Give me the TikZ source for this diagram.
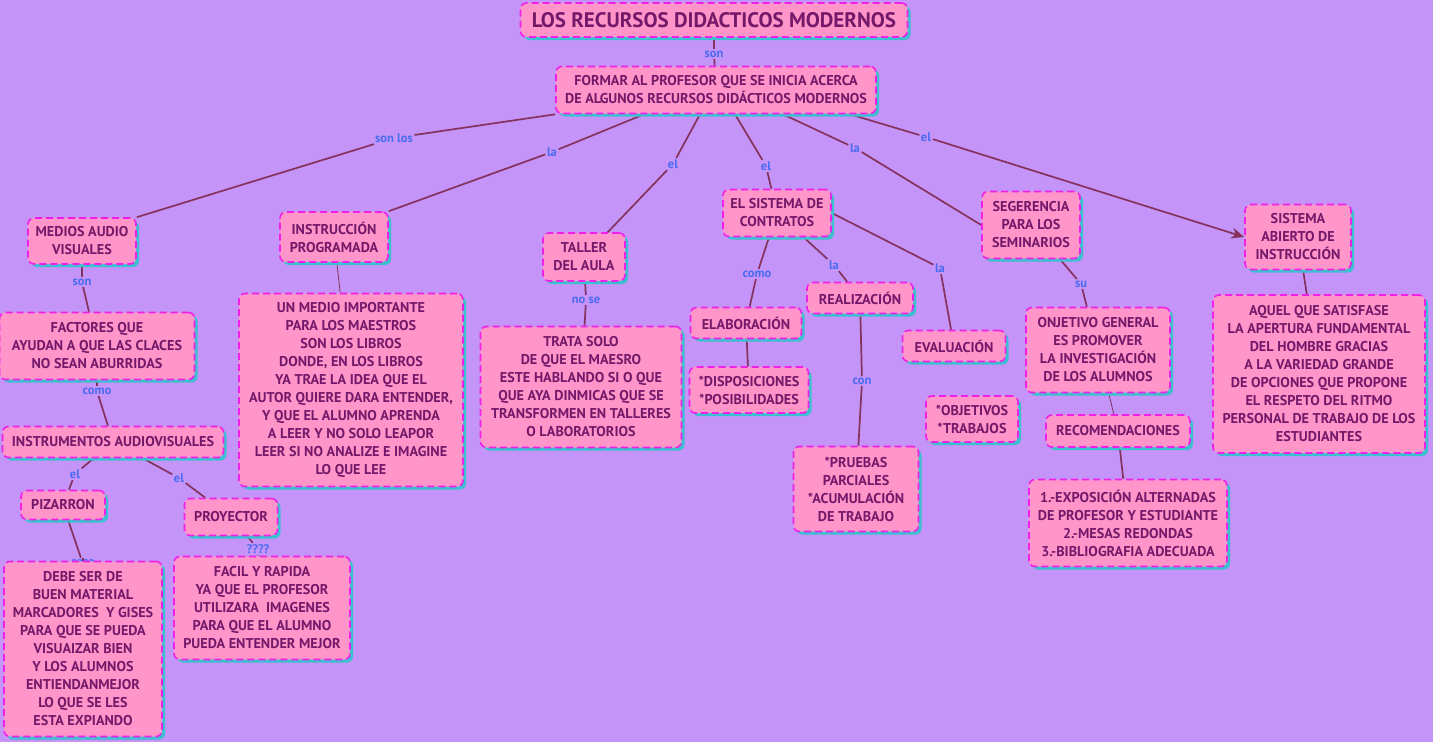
\documentclass[tikz,border=0pt]{standalone}
\usepackage{fontspec}
\setmainfont{PT Sans}
\usetikzlibrary{shadows,arrows.meta}
\definecolor{bgcol}{HTML}{C494F8}
\definecolor{pinkfill}{HTML}{FF95C8}
\definecolor{bordercol}{HTML}{F020E8}
\definecolor{shadowcol}{HTML}{3CC0D0}
\definecolor{textcol}{HTML}{74186A}
\definecolor{linecol}{HTML}{86325E}
\definecolor{labelcol}{HTML}{4A6BF2}
\pgfdeclarelayer{back}
\pgfdeclarelayer{links}
\pgfsetlayers{back,links,main}
\begin{document}
\begin{tikzpicture}[x=1pt,y=-1pt,
  box/.style={draw=bordercol, fill=pinkfill, dash pattern=on 7pt off 4pt,
    line width=1.6pt, rounded corners=6pt, text=textcol, align=center,
    inner sep=0pt, font=\bfseries\fontsize{14.2}{18}\selectfont,
    drop shadow={shadow xshift=3pt, shadow yshift=-3pt, fill=shadowcol, opacity=1}},
  lbl/.style={text=labelcol, font=\bfseries\fontsize{12.5}{13}\selectfont, inner sep=1.5pt},
  link/.style={draw=linecol, line width=1.7pt}]
\useasboundingbox (0,0) rectangle (1433,742);
\begin{pgfonlayer}{back}
\fill[bgcol] (0,0) rectangle (1433,742);
\end{pgfonlayer}

% boxes
\node[box, minimum width=387pt, minimum height=34pt, font=\bfseries\fontsize{21}{22}\selectfont] (title) at (714,20) {LOS RECURSOS DIDACTICOS MODERNOS};
\node[box, minimum width=320pt, minimum height=47pt] (formar) at (716,90) {FORMAR AL PROFESOR QUE SE INICIA ACERCA\\DE ALGUNOS RECURSOS DIDÁCTICOS MODERNOS};
\node[box, minimum width=108pt, minimum height=46pt] (medios) at (82,241) {MEDIOS AUDIO\\VISUALES};
\node[box, minimum width=108pt, minimum height=50pt] (instr) at (334,237) {INSTRUCCIÓN\\PROGRAMADA};
\node[box, minimum width=82pt, minimum height=48pt] (taller) at (584,257) {TALLER\\DEL AULA};
\node[box, minimum width=108pt, minimum height=47pt] (contratos) at (777,213) {EL SISTEMA DE\\CONTRATOS};
\node[box, minimum width=98pt, minimum height=67pt] (seger) at (1031,225) {SEGERENCIA\\PARA LOS\\SEMINARIOS};
\node[box, minimum width=106pt, minimum height=65pt] (abierto) at (1298,237) {SISTEMA\\ABIERTO DE\\INSTRUCCIÓN};
\node[box, minimum width=195pt, minimum height=67pt] (factores) at (97,346) {FACTORES QUE\\AYUDAN A QUE LAS CLACES\\NO SEAN ABURRIDAS};
\node[box, minimum width=221pt, minimum height=31pt] (instrum) at (113,442) {INSTRUMENTOS AUDIOVISUALES};
\node[box, minimum width=84pt, minimum height=29pt] (pizarron) at (63,505) {PIZARRON};
\node[box, minimum width=93pt, minimum height=37pt] (proyector) at (231,517) {PROYECTOR};
\node[box, minimum width=158pt, minimum height=175pt] (debe) at (83,649) {DEBE SER DE\\BUEN MATERIAL\\MARCADORES~ Y GISES\\PARA QUE SE PUEDA\\VISUAIZAR BIEN\\Y LOS ALUMNOS\\ENTIENDANMEJOR\\LO QUE SE LES\\ESTA EXPIANDO};
\node[box, minimum width=176pt, minimum height=103pt] (facil) at (262,608) {FACIL Y RAPIDA\\YA QUE EL PROFESOR\\UTILIZARA~ IMAGENES\\PARA QUE EL ALUMNO\\PUEDA ENTENDER MEJOR};
\node[box, minimum width=224pt, minimum height=193pt] (unmedio) at (351,390) {UN MEDIO IMPORTANTE\\PARA LOS MAESTROS\\SON LOS LIBROS\\DONDE, EN LOS LIBROS\\YA TRAE LA IDEA QUE EL\\AUTOR QUIERE DARA ENTENDER,\\Y QUE EL ALUMNO APRENDA\\A LEER Y NO SOLO LEAPOR\\LEER SI NO ANALIZE E IMAGINE\\LO QUE LEE};
\node[box, minimum width=201pt, minimum height=121pt] (trata) at (581,387) {TRATA SOLO\\DE QUE EL MAESRO\\ESTE HABLANDO SI O QUE\\QUE AYA DINMICAS QUE SE\\TRANSFORMEN EN TALLERES\\O LABORATORIOS};
\node[box, minimum width=111pt, minimum height=31pt] (elab) at (746,323) {ELABORACIÓN};
\node[box, minimum width=119pt, minimum height=46pt] (dispos) at (749,390) {*DISPOSICIONES\\*POSIBILIDADES};
\node[box, minimum width=106pt, minimum height=31pt] (realiz) at (860,298) {REALIZACIÓN};
\node[box, minimum width=103pt, minimum height=31pt] (evalu) at (954,346) {EVALUACIÓN};
\node[box, minimum width=125pt, minimum height=85pt] (pruebas) at (856,489) {*PRUEBAS\\PARCIALES\\*ACUMULACIÓN\\DE TRABAJO};
\node[box, minimum width=92pt, minimum height=46pt] (objet) at (972,419) {*OBJETIVOS\\*TRABAJOS};
\node[box, minimum width=144pt, minimum height=85pt] (onjet) at (1098,350) {ONJETIVO GENERAL\\ES PROMOVER\\LA INVESTIGACIÓN\\DE LOS ALUMNOS};
\node[box, minimum width=144pt, minimum height=32pt] (recom) at (1118,431) {RECOMENDACIONES};
\node[box, minimum width=198pt, minimum height=87pt] (expos) at (1128,523) {1.-EXPOSICIÓN ALTERNADAS\\DE PROFESOR Y ESTUDIANTE\\2.-MESAS REDONDAS\\3.-BIBLIOGRAFIA ADECUADA};
\node[box, minimum width=212pt, minimum height=158pt] (aquel) at (1319,374) {AQUEL QUE SATISFASE\\LA APERTURA FUNDAMENTAL\\DEL HOMBRE GRACIAS\\A LA VARIEDAD GRANDE\\DE OPCIONES QUE PROPONE\\EL RESPETO DEL RITMO\\PERSONAL DE TRABAJO DE LOS\\ESTUDIANTES};

\begin{pgfonlayer}{links}
% link labels
\node[lbl] (l1) at (714,54) {son};
\node[lbl] (l2) at (394,138) {son los};
\node[lbl] (l3) at (552,152) {la};
\node[lbl] (l4) at (673,164) {el};
\node[lbl] (l5) at (766,166) {el};
\node[lbl] (l6) at (855,148) {la};
\node[lbl] (l7) at (926,137) {el};
\node[lbl] (l8) at (82,282) {son};
\node[lbl] (l9) at (97,391) {como};
\node[lbl] (l10) at (75,474) {el};
\node[lbl] (l11) at (179,478) {el};
\node[lbl] (l12) at (83,564) {????};
\node[lbl] (l13) at (258,549) {????};
\node[lbl] (l14) at (586,300) {no se};
\node[lbl] (l15) at (757,274) {como};
\node[lbl] (l16) at (834,265) {la};
\node[lbl] (l17) at (940,268) {la};
\node[lbl] (l18) at (862,381) {con};
\node[lbl] (l19) at (1081,284) {su};
% connectors
\draw[link] (title) -- (l1); \draw[link] (l1) -- (formar);
\draw[link] (formar.south west) -- (l2); \draw[link] (l2) -- (medios.north east);
\draw[link] (formar.south) ++(-72,0) coordinate (f3) -- (l3); \draw[link] (l3) -- (instr.north east);
\draw[link] (formar.south) ++(-16,0) coordinate (f4) -- (l4); \draw[link] (l4) -- (taller);
\draw[link] (formar.south) ++(19,0) coordinate (f5) -- (l5); \draw[link] (l5) -- (contratos);
\draw[link] (formar.south) ++(67,0) coordinate (f6) -- (l6); \draw[link] (l6) -- (seger.west);
\draw[link] (formar.south) ++(134,0) coordinate (f7) -- (l7); \draw[link,-{Stealth[length=13pt,width=11pt]}] (l7) -- (abierto.west);
\draw[link] (medios) -- (l8); \draw[link] (l8) -- (factores);
\draw[link] (factores) -- (l9); \draw[link] (l9) -- (instrum);
\draw[link] (instrum) -- (l10); \draw[link] (l10) -- (pizarron);
\draw[link] (instrum) -- (l11); \draw[link] (l11) -- (proyector);
\draw[link] (pizarron) -- (l12); \draw[link] (l12) -- (debe);
\draw[link] (proyector) -- (l13); \draw[link] (l13) -- (facil);
\draw[link,line width=0.8pt] (instr) -- (unmedio);
\draw[link] (taller) -- (l14); \draw[link] (l14) -- (trata);
\draw[link] (contratos) -- (l15); \draw[link] (l15) -- (elab);
\draw[link] (contratos) -- (l16); \draw[link] (l16) -- (realiz);
\draw[link] (contratos.east) -- (l17); \draw[link] (l17) -- (evalu);
\draw[link] (elab) -- (dispos);
\draw[link] (realiz) -- (l18); \draw[link] (l18) -- (pruebas);
\draw[link] (seger) -- (l19); \draw[link] (l19) -- (onjet);
\draw[link,line width=0.8pt] (onjet) -- (recom);
\draw[link] (recom) -- (expos);
\draw[link] (abierto) -- (aquel);
\end{pgfonlayer}
\end{tikzpicture}
\end{document}
